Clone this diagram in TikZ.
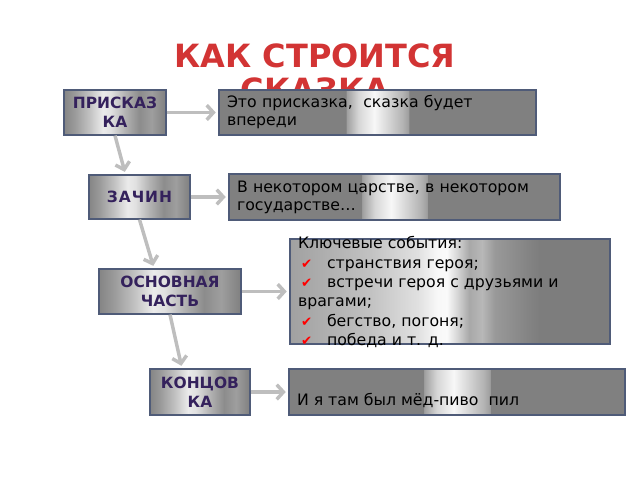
\documentclass[tikz,border=0pt]{standalone}
\usepackage{fontspec}
\setmainfont{DejaVu Sans}
\usetikzlibrary{positioning,arrows.meta,calc}

\definecolor{framec}{RGB}{79,91,120}
\definecolor{titlered}{RGB}{210,52,52}
\definecolor{labelc}{RGB}{52,33,92}
\definecolor{arrowc}{RGB}{190,190,190}

\pgfdeclarehorizontalshading{metal}{100bp}{gray(0bp)=(0.52); gray(25bp)=(0.52); gray(30bp)=(0.6); gray(37.5bp)=(0.76); gray(44bp)=(0.92); gray(48bp)=(0.88); gray(55bp)=(0.7); gray(62bp)=(0.55); gray(68bp)=(0.62); gray(75bp)=(0.5); gray(100bp)=(0.5)}
\pgfdeclarehorizontalshading{strip}{100bp}{gray(0bp)=(0.5); gray(45bp)=(0.5); gray(45.1bp)=(0.62); gray(47bp)=(0.84); gray(49.5bp)=(0.97); gray(52bp)=(0.82); gray(54bp)=(0.7); gray(54.9bp)=(0.62); gray(55bp)=(0.5); gray(100bp)=(0.5)}
\pgfdeclarehorizontalshading{widestrip}{100bp}{gray(0bp)=(0.63); gray(25bp)=(0.63); gray(30bp)=(0.68); gray(37.5bp)=(0.76); gray(45bp)=(0.88); gray(48bp)=(0.97); gray(49.5bp)=(0.98); gray(51bp)=(0.85); gray(53bp)=(0.66); gray(55bp)=(0.72); gray(57bp)=(0.6); gray(62bp)=(0.52); gray(64bp)=(0.49); gray(100bp)=(0.49)}

\newcommand\redcheck{\hspace*{2.25pt}\makebox[19.5pt][l]{\textcolor{red}{\fontsize{10}{10}\selectfont ✔}}}

\begin{document}
\begin{tikzpicture}[x=0.75pt,y=-0.75pt,
  labelbox/.style={draw=framec,line width=0.9pt,shade,shading=metal,text=labelc,
    font=\bfseries\fontsize{11.6}{14}\selectfont,align=center,inner sep=0pt},
  textbox/.style={draw=framec,line width=0.9pt,shade,shading=strip,
    font=\fontsize{11.8}{13.5}\selectfont,align=left,inner xsep=6pt,inner ysep=0pt},
  flow/.style={draw=arrowc,line width=2.6pt,-{Straight Barb[length=5pt,width=11pt]},shorten >=2pt}]
  \useasboundingbox (0,0) rectangle (640,480);

  \node[text=titlered,font=\bfseries\fontsize{24}{25.5}\selectfont,align=center] (title) at (315,73) {КАК СТРОИТСЯ\\СКАЗКА};

  \node[labelbox,minimum width=76.5pt,minimum height=33.75pt] (pris) at (115,112.5) {ПРИСКАЗ\\КА};
  \node[labelbox,minimum width=75.75pt,minimum height=33pt] (zach) at (139.5,197) {\addfontfeature{LetterSpace=6}ЗАЧИН};
  \node[labelbox,minimum width=106.5pt,minimum height=33.75pt] (osn) at (170,291.5) {ОСНОВНАЯ\\ЧАСТЬ};
  \node[labelbox,minimum width=75pt,minimum height=34.5pt] (konc) at (200,392) {КОНЦОВ\\КА};

  \node[textbox,text width=225.75pt,minimum height=33.75pt] (t1) at (377.5,112.5) {Это присказка,\ \ сказка будет\\впереди};
  \node[textbox,text width=236.25pt,minimum height=34.5pt] (t2) at (394.5,197) {В некотором царстве, в некотором\\государстве…};
  \node[textbox,shading=widestrip,align=center,minimum width=240pt,minimum height=78.75pt] (t3) at (450,291.5)
    {\smash{\raisebox{-3.5pt}{\parbox[c]{228pt}{\setlength\baselineskip{14.5pt}Ключевые события:\\
    \redcheck странствия героя;\\
    \redcheck встречи героя с друзьями и\\
    врагами;\\
    \redcheck бегство, погоня;\\
    \redcheck победа и т. д.}}}};
  \node[textbox,align=center,minimum width=252pt,minimum height=34.5pt] (t4) at (457,392)
    {\smash{\raisebox{-9.75pt}{\parbox[b]{240pt}{И я там был мёд-пиво\ \ пил}}}};

  \draw[flow] (pris.east) -- (t1.west);
  \draw[flow] (zach.east) -- (t2.west);
  \draw[flow] (osn.east) -- (t3.west);
  \draw[flow] (konc.east) -- (t4.west);
  \draw[flow] (pris.south) -- ($(zach.north)+(-14,0)$);
  \draw[flow] (zach.south) -- ($(osn.north)+(-16,0)$);
  \draw[flow] (osn.south) -- ($(konc.north)+(-18,0)$);
\end{tikzpicture}
\end{document}
